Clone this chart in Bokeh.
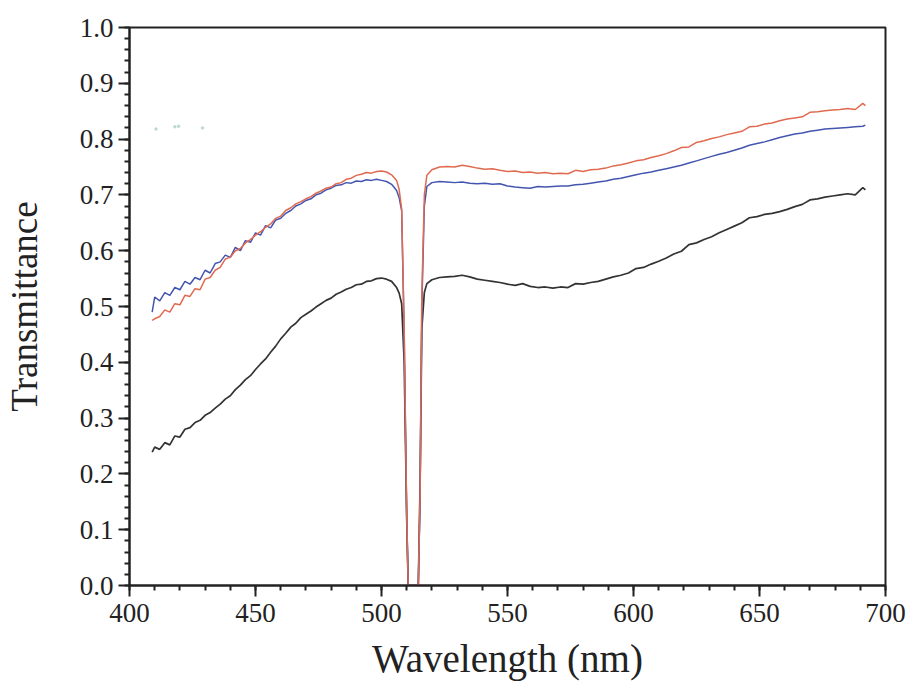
from bokeh.plotting import figure
from bokeh.models import Range1d, FixedTicker, PrintfTickFormatter, ColumnDataSource
from bokeh.embed import file_html
from bokeh.resources import INLINE

# Wavelength samples (nm)
wl = [409, 410, 412, 414, 416, 418, 420, 422, 424, 426, 428, 430, 432, 434, 436, 438,
      440, 442, 444, 446, 448, 450, 452, 454, 456, 458, 460, 462, 464, 466, 468, 470,
      472, 474, 476, 478, 480, 482, 484, 486, 488, 490, 492, 494, 496, 498, 500, 502,
      504, 506,
      507, 508, 509, 510, 510.6, 514.6, 515.3, 516, 517, 518,
      520, 523, 526, 529, 532, 535, 538, 541, 544, 547, 550, 553, 556, 559, 562, 565,
      568, 571, 574, 577, 580, 583, 586, 589, 592, 595, 598, 601, 604, 607, 610, 613,
      616, 619, 622, 625, 628, 631, 634, 637, 640, 643, 646, 649, 652, 655, 658, 661,
      664, 667, 670, 673, 676, 679, 682, 685, 688, 691, 692]

blue = [0.490, 0.517, 0.510, 0.525, 0.520, 0.534, 0.530, 0.545, 0.540, 0.552, 0.548, 0.565,
        0.560, 0.577, 0.580, 0.592, 0.588, 0.606, 0.600, 0.618, 0.615, 0.632, 0.628, 0.645,
        0.641, 0.655, 0.658, 0.667, 0.672, 0.680, 0.684, 0.690, 0.693, 0.700, 0.703, 0.709,
        0.712, 0.717, 0.718, 0.722, 0.721, 0.725, 0.724, 0.727, 0.726, 0.728, 0.726, 0.724,
        0.719, 0.708,
        0.695, 0.672, 0.45, 0.12, 0.0, 0.0, 0.15, 0.50, 0.68, 0.715,
        0.722, 0.724, 0.723, 0.722, 0.723, 0.721, 0.720, 0.721, 0.719, 0.720, 0.716, 0.714,
        0.713, 0.712, 0.715, 0.714, 0.715, 0.716, 0.716, 0.718, 0.719, 0.721, 0.723, 0.725,
        0.728, 0.730, 0.733, 0.736, 0.739, 0.741, 0.744, 0.747, 0.750, 0.753, 0.757, 0.761,
        0.765, 0.769, 0.773, 0.776, 0.780, 0.784, 0.789, 0.792, 0.795, 0.799, 0.803, 0.806,
        0.809, 0.811, 0.814, 0.816, 0.818, 0.819, 0.820, 0.821, 0.822, 0.823, 0.825]

red = [0.475, 0.478, 0.482, 0.494, 0.490, 0.505, 0.503, 0.520, 0.518, 0.532, 0.530, 0.549,
       0.552, 0.565, 0.570, 0.585, 0.588, 0.600, 0.604, 0.614, 0.620, 0.628, 0.634, 0.642,
       0.648, 0.658, 0.662, 0.672, 0.677, 0.684, 0.688, 0.693, 0.697, 0.703, 0.707, 0.712,
       0.714, 0.720, 0.722, 0.728, 0.730, 0.735, 0.737, 0.740, 0.739, 0.742, 0.743, 0.741,
       0.736, 0.726,
       0.710, 0.675, 0.46, 0.13, 0.0, 0.0, 0.16, 0.52, 0.70, 0.735,
       0.745, 0.750, 0.751, 0.750, 0.753, 0.751, 0.748, 0.746, 0.747, 0.744, 0.742, 0.743,
       0.740, 0.741, 0.739, 0.740, 0.738, 0.739, 0.738, 0.744, 0.742, 0.745, 0.746, 0.748,
       0.752, 0.754, 0.757, 0.761, 0.763, 0.767, 0.770, 0.774, 0.779, 0.785, 0.786, 0.794,
       0.797, 0.801, 0.804, 0.808, 0.811, 0.814, 0.822, 0.823, 0.827, 0.829, 0.833, 0.836,
       0.838, 0.840, 0.848, 0.849, 0.851, 0.852, 0.853, 0.855, 0.853, 0.864, 0.860]

black = [0.239, 0.248, 0.244, 0.256, 0.252, 0.268, 0.266, 0.280, 0.283, 0.292, 0.296, 0.305,
         0.310, 0.318, 0.325, 0.334, 0.340, 0.351, 0.359, 0.369, 0.376, 0.387, 0.397, 0.406,
         0.418, 0.429, 0.442, 0.452, 0.463, 0.470, 0.480, 0.486, 0.492, 0.499, 0.505, 0.511,
         0.515, 0.522, 0.526, 0.531, 0.534, 0.539, 0.540, 0.545, 0.546, 0.550, 0.551, 0.549,
         0.545, 0.534,
         0.524, 0.505, 0.40, 0.12, 0.0, 0.0, 0.18, 0.46, 0.525, 0.541,
         0.548, 0.552, 0.553, 0.554, 0.556, 0.553, 0.549, 0.547, 0.545, 0.543, 0.540, 0.538,
         0.541, 0.536, 0.534, 0.535, 0.533, 0.535, 0.534, 0.541, 0.540, 0.543, 0.545, 0.549,
         0.553, 0.556, 0.560, 0.568, 0.570, 0.576, 0.581, 0.587, 0.594, 0.599, 0.611, 0.614,
         0.620, 0.625, 0.632, 0.638, 0.644, 0.650, 0.659, 0.661, 0.665, 0.667, 0.670, 0.674,
         0.679, 0.683, 0.691, 0.693, 0.696, 0.698, 0.700, 0.702, 0.700, 0.713, 0.709]

# faint specks visible near the upper left of the original
speck_wl = [410.5, 418.0, 419.5, 429.0]
speck_t = [0.818, 0.822, 0.823, 0.820]

x_major = [400, 450, 500, 550, 600, 650, 700]
x_minor = [400, 410, 420, 430, 440, 450, 460, 470, 480, 490, 500, 510, 520, 530, 540, 550,
           560, 570, 580, 590, 600, 610, 620, 630, 640, 650, 660, 670, 680, 690, 700]
y_major = [0.0, 0.1, 0.2, 0.3, 0.4, 0.5, 0.6, 0.7, 0.8, 0.9, 1.0]
y_minor = [round(i * 0.02, 2) for i in range(51)]

src = ColumnDataSource(dict(wl=wl, blue=blue, red=red, black=black))

p = figure(width=909, height=683, output_backend="svg", toolbar_location=None,
           x_range=Range1d(400, 700), y_range=Range1d(0, 1.0),
           min_border_left=129, min_border_right=24, min_border_top=27, min_border_bottom=98,
           background_fill_color="white", border_fill_color="white")

p.grid.visible = False
p.outline_line_color = "#222222"
p.outline_line_width = 2

p.scatter(speck_wl, speck_t, size=2.5, color="#a8d0cc", alpha=0.7)
p.line("wl", "black", source=src, line_color="#333333", line_width=1.7)
p.line("wl", "blue", source=src, line_color="#4455b0", line_width=1.5)
p.line("wl", "red", source=src, line_color="#e06a50", line_width=1.5)

p.xaxis.ticker = FixedTicker(ticks=x_major, minor_ticks=x_minor)
p.yaxis.ticker = FixedTicker(ticks=y_major, minor_ticks=y_minor)
p.yaxis.formatter = PrintfTickFormatter(format="%.1f")

for ax in (p.xaxis[0], p.yaxis[0]):
    ax.axis_line_color = "#222222"
    ax.axis_line_width = 2
    ax.major_tick_line_color = "#222222"
    ax.major_tick_line_width = 2
    ax.minor_tick_line_color = "#222222"
    ax.minor_tick_line_width = 2
    ax.major_tick_in = 0
    ax.major_tick_out = 11
    ax.minor_tick_in = 0
    ax.minor_tick_out = 5
    ax.major_label_text_font = "Liberation Serif"
    ax.major_label_text_font_size = "27px"
    ax.major_label_text_color = "#222222"
    ax.axis_label_text_font = "Liberation Serif"
    ax.axis_label_text_font_style = "normal"
    ax.axis_label_text_color = "#222222"

p.xaxis.axis_label = "Wavelength (nm)"
p.yaxis.axis_label = "Transmittance"
p.xaxis.axis_label_text_font_size = "39px"
p.yaxis.axis_label_text_font_size = "37px"
p.xaxis.major_label_standoff = 7
p.yaxis.major_label_standoff = 5
p.xaxis.axis_label_standoff = 12
p.yaxis.axis_label_standoff = 32

open("out.html", "w").write(file_html(p, INLINE))
